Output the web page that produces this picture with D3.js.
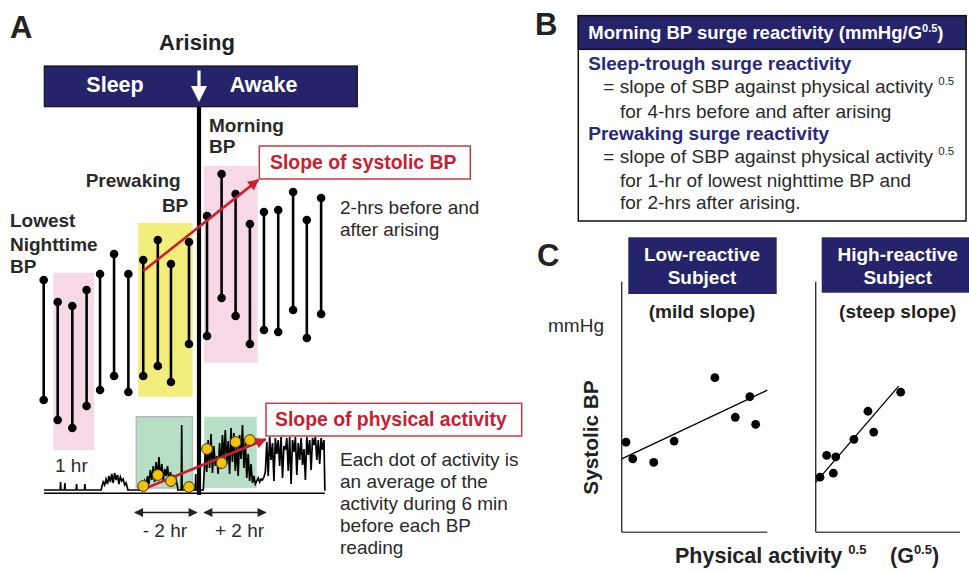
<!DOCTYPE html>
<html><head><meta charset="utf-8">
<script src="https://cdn.jsdelivr.net/npm/d3@7"></script>
<style>
body{margin:0;background:#fff}
svg{display:block}
text{font-family:"Liberation Sans",Arial,Helvetica,sans-serif}
</style>
</head><body>
<svg id="c" width="969" height="571"></svg>
<script>
// ---------------- DATA ----------------
// Panel A: ambulatory BP readings (hours relative to arising)
const bpTimes = [-5.43,-4.94,-4.43,-3.93,-3.46,-2.97,-2.47,-1.95,-1.44,-0.98,-0.35,0.28,0.79,1.28,1.78,2.27,2.77,3.29,3.77,4.27];
const bpSystolic = [125,114,112,120,128,138,128,135,145,133,144,157,178,168,153,159,160,169,155,166];
const bpDiastolic = [65,55,51,62,70,77,69,77,82,74,93,97,116,107,93,100,99,110,96,108];

// activity averages (dots) for readings 8..15
const actDotIndex = [7,8,9,10,11,12,13,14];
const actDotValues = [4,15,9,3,41,27,48,50];

// activity trace (step 0.05 h)
const actStep = 0.05;
const actSpikes = [[-4.84,8],[-4.69,7],[-4.28,6],[-3.99,6],[-0.605,65],[-0.115,16]];
const actBurst1Start = -3.40;
const actBurst1 = [3,8,5,11,6,14,8,16,7,17,10,15,6,13,9,11,5,7,2];
const actBurst2Start = -2.05;
const actBurst2 = [2,5,3,9,4,14,6,20,10,24,8,28,13,33,11,26,9,21,14,24,7,18,10,15,6,10,3];
const actBurst3Start = 0.17;
const actBurst3 = [12,38,18,50,22,56,17,44,24,34,16,47,21,55,30,60,26,49,16,62,28,57,19,44,14,55,31,65,22,48,12,36,9,26,7,14,6,9,12,8,11,10,13,18,48,14,53,30,47,9,52,36,50,24,53,12,44,40,52,19,53,6,50,38,53,15,47,30,52,25,41,10,53,35,50,20,52,45,53,30,50,26,52,40,50,0];
const actRange = [-5.42, 4.40];

// highlighted windows [t0, t1, low, high]
const bpWindows = [
  {t0:-5.09, t1:-3.67, lo:40, hi:128.6, color:"#f6d8e6"},   // lowest nighttime
  {t0:-2.13, t1:-0.22, lo:66.6, hi:153.5, color:"#f3ee7c"}, // prewaking
  {t0:0.175, t1:2.05, lo:83.6, hi:182, color:"#f6d8e6"}     // morning
];
const actWindows = [
  {t0:-2.19, t1:-0.23, lo:2, hi:73.3, border:true},
  {t0:0.185, t1:2.02, lo:2, hi:73.3, border:false}
];
const sbpSlope = [[-1.95,129.5],[2.07,175]];
const actSlope = [[-1.95,0.7],[2.33,50.7]];
const hourArrows = [[-2.24,-0.08,"- 2 hr"],[0.185,2.33,"+ 2 hr"]];

// Panel C scatter data
const lowX = [0.3,0.76,2.2,3.6,6.4,7.8,8.8,9.2];
const lowY = [36,29.3,27.9,36.4,61.7,45.9,54.1,43.1];
const lowFit = [[0,29.3],[10,56.7]];
const highX = [0.3,0.76,1.22,1.39,2.65,3.62,4.02,5.89];
const highY = [22,30.7,23.6,30.1,37.1,48.3,40,55.9];
const highFit = [[0,19.9],[5.75,58.3]];

// ---------------- DRAW ----------------
const NAVY = "#25246a", RED = "#c8202f", TXT = "#2a2a2a", BLUEBOLD = "#2a2a78";
const svg = d3.select("#c");
const defs = svg.append("defs");
function marker(id, color, w, h) {
  defs.append("marker").attr("id", id).attr("viewBox","0 0 10 10").attr("refX",9).attr("refY",5)
    .attr("markerWidth",w).attr("markerHeight",h).attr("orient","auto-start-reverse")
    .attr("markerUnits","userSpaceOnUse")
    .append("path").attr("d","M0,0 L10,5 L0,10 z").attr("fill",color);
}
marker("redHead", RED, 13, 11);
marker("blkHead", "#222", 11, 9);

const x = d3.scaleLinear().domain([-6,5]).range([199-6*28.6, 199+5*28.6]);
const y = d3.scaleLinear().domain([50,180]).range([430,170]);
const ay = d3.scaleLinear().domain([0,70]).range([490,420]);

const gA = svg.append("g");
// windows
gA.selectAll("rect.bw").data(bpWindows).join("rect")
  .attr("x", d=>x(d.t0)).attr("width", d=>x(d.t1)-x(d.t0))
  .attr("y", d=>y(d.hi)).attr("height", d=>y(d.lo)-y(d.hi)).attr("fill", d=>d.color);
gA.selectAll("rect.aw").data(actWindows).join("rect")
  .attr("x", d=>x(d.t0)).attr("width", d=>x(d.t1)-x(d.t0))
  .attr("y", d=>ay(d.hi)).attr("height", d=>ay(d.lo)-ay(d.hi))
  .attr("fill","#b6dfc6").attr("stroke", d=>d.border?"#b8b8b8":"none").attr("stroke-width",1.5);

// BP readings
const bp = bpTimes.map((t,i)=>({t, s:bpSystolic[i], d:bpDiastolic[i]}));
gA.selectAll("line.bp").data(bp).join("line")
  .attr("x1",d=>x(d.t)).attr("x2",d=>x(d.t)).attr("y1",d=>y(d.s)).attr("y2",d=>y(d.d))
  .attr("stroke","#000").attr("stroke-width",2.6);
gA.selectAll("circle.s").data(bp).join("circle").attr("cx",d=>x(d.t)).attr("cy",d=>y(d.s)).attr("r",4.3).attr("fill","#000");
gA.append("g").selectAll("circle").data(bp).join("circle").attr("cx",d=>x(d.t)).attr("cy",d=>y(d.d)).attr("r",4.3).attr("fill","#000");

// activity trace
let pts = [[actRange[0],0],[actRange[1],0]];
actSpikes.forEach(([t,h])=>{pts.push([t-0.015,0],[t,h],[t+0.015,0]);});
[[actBurst1Start,actBurst1],[actBurst2Start,actBurst2],[actBurst3Start,actBurst3]].forEach(([s,arr])=>{
  pts.push([s-0.02,0]);
  arr.forEach((v,i)=>pts.push([s+i*actStep,v]));
  pts.push([s+(arr.length-1)*actStep+0.01,0]);
});
pts.sort((a,b)=>a[0]-b[0]);
gA.append("path").datum(pts).attr("fill","none").attr("stroke","#000").attr("stroke-width",1.7)
  .attr("d", d3.line().x(d=>x(d[0])).y(d=>ay(d[1])));
gA.append("line").attr("x1",x(actRange[0])).attr("x2",x(actRange[1])).attr("y1",ay(0)+3.2).attr("y2",ay(0)+3.2)
  .attr("stroke","#000").attr("stroke-width",1.4);

// arising line
gA.append("line").attr("x1",x(0)).attr("x2",x(0)).attr("y1",106).attr("y2",495).attr("stroke","#000").attr("stroke-width",4.2);

// sleep/awake bar
gA.append("rect").attr("x",44.3).attr("y",66).attr("width",313).attr("height",40.7).attr("fill",NAVY).attr("stroke","#111").attr("stroke-width",1.2);
gA.append("text").attr("x",115).attr("y",92).attr("text-anchor","middle").attr("fill","#fff").attr("font-weight","bold").attr("font-size",21.5).text("Sleep");
gA.append("text").attr("x",263.5).attr("y",92).attr("text-anchor","middle").attr("fill","#fff").attr("font-weight","bold").attr("font-size",21.5).text("Awake");
gA.append("rect").attr("x",x(0)-1.6).attr("y",70.5).attr("width",3.2).attr("height",17).attr("fill","#fff");
gA.append("path").attr("d",`M${x(0)-8},86 L${x(0)+8},86 L${x(0)},102 z`).attr("fill","#fff");

// slope arrows
gA.append("line").attr("x1",x(sbpSlope[0][0])).attr("y1",y(sbpSlope[0][1])).attr("x2",x(sbpSlope[1][0])).attr("y2",y(sbpSlope[1][1]))
  .attr("stroke",RED).attr("stroke-width",2.6).attr("marker-end","url(#redHead)");
gA.append("line").attr("x1",x(actSlope[0][0])).attr("y1",ay(actSlope[0][1])).attr("x2",x(actSlope[1][0])).attr("y2",ay(actSlope[1][1]))
  .attr("stroke",RED).attr("stroke-width",2.6).attr("marker-end","url(#redHead)");

// activity dots
gA.selectAll("circle.ad").data(actDotIndex).join("circle")
  .attr("cx",(d)=>x(bpTimes[d])).attr("cy",(d,i)=>ay(actDotValues[i])).attr("r",5.4)
  .attr("fill","#f7c300").attr("stroke","#333").attr("stroke-width",1);

// hour arrows
hourArrows.forEach(([a,b,lab])=>{
  gA.append("line").attr("x1",x(a)).attr("x2",x(b)).attr("y1",512.5).attr("y2",512.5).attr("stroke","#222").attr("stroke-width",1.5)
    .attr("marker-start","url(#blkHead)").attr("marker-end","url(#blkHead)");
});
gA.append("text").attr("x",142.7).attr("y",537).attr("font-size",19).attr("fill",TXT).text("- 2 hr");
gA.append("text").attr("x",215).attr("y",537).attr("font-size",19).attr("fill",TXT).text("+ 2 hr");

// labels
function txt(g, x0, y0, s, size, opts={}) {
  const t = g.append("text").attr("x",x0).attr("y",y0).attr("font-size",size).attr("fill",opts.fill||TXT).text(s);
  if (opts.bold) t.attr("font-weight","bold");
  if (opts.anchor) t.attr("text-anchor",opts.anchor);
  return t;
}
txt(gA,10,38,"A",31,{bold:true,fill:"#222"});
txt(gA,197,49.5,"Arising",22,{bold:true,anchor:"middle",fill:"#222"});
txt(gA,209,131.7,"Morning",19,{bold:true});
txt(gA,209,153.3,"BP",19,{bold:true});
txt(gA,85.7,187,"Prewaking",19,{bold:true});
txt(gA,188.3,211.7,"BP",19,{bold:true,anchor:"end"});
txt(gA,10,227,"Lowest",19,{bold:true});
txt(gA,10,250.7,"Nighttime",19,{bold:true});
txt(gA,10,273.3,"BP",19,{bold:true});
txt(gA,55,471.7,"1 hr",19);
txt(gA,340,213.5,"2-hrs before and",19);
txt(gA,340,235.5,"after arising",19);
["Each dot of activity is","an average of the","activity during 6 min","before each BP","reading"].forEach((s,i)=>txt(gA,340,466+i*22,s,19));

// red boxes
gA.append("rect").attr("x",259.3).attr("y",146).attr("width",211).attr("height",33).attr("fill","#fff").attr("stroke","#c83a45").attr("stroke-width",1.5);
txt(gA,270,168.5,"Slope of systolic BP",19.4,{bold:true,fill:RED});
gA.append("rect").attr("x",266).attr("y",403.3).attr("width",255.7).attr("height",32.7).attr("fill","#fff").attr("stroke","#c83a45").attr("stroke-width",1.5);
txt(gA,275,425.5,"Slope of physical activity",19.4,{bold:true,fill:RED});

// ---------------- Panel B ----------------
const gB = svg.append("g");
txt(gB,535,35,"B",31,{bold:true,fill:"#222"});
gB.append("rect").attr("x",578.3).attr("y",15.7).attr("width",387.7).attr("height",205.3).attr("fill","#fff").attr("stroke","#111").attr("stroke-width",1.5);
gB.append("rect").attr("x",578.3).attr("y",15.7).attr("width",387.7).attr("height",33.6).attr("fill",NAVY).attr("stroke","#111").attr("stroke-width",1.5);
const hdr = txt(gB,588.3,39,"Morning BP surge reactivity (mmHg/G",18.5,{bold:true,fill:"#fff"});
hdr.append("tspan").attr("font-size",11).attr("dy",-7).text("0.5");
hdr.append("tspan").attr("dy",7).text(")");
txt(gB,588.3,70,"Sleep-trough surge reactivity",19,{bold:true,fill:BLUEBOLD});
let l1 = txt(gB,603.3,93.3,"= slope of SBP against physical activity ",19);
l1.append("tspan").attr("font-size",11.5).attr("dy",-8).text("0.5");
txt(gB,620,118.3,"for 4-hrs before and after arising",19);
txt(gB,588.3,140,"Prewaking surge reactivity",19,{bold:true,fill:BLUEBOLD});
let l2 = txt(gB,603.3,163.3,"= slope of SBP against physical activity ",19);
l2.append("tspan").attr("font-size",11.5).attr("dy",-8).text("0.5");
txt(gB,620,186.7,"for 1-hr of lowest nighttime BP and",19);
txt(gB,620,209.3,"for 2-hrs after arising.",19);

// ---------------- Panel C ----------------
const gC = svg.append("g");
txt(gC,537,266,"C",31,{bold:true,fill:"#222"});
const yC = d3.scaleLinear().domain([0,100]).range([532.3,281.7]);
const panels = [
  {x:d3.scaleLinear().domain([0,10]).range([621.7,767.3]), xs:lowX, ys:lowY, fit:lowFit,
   box:[628.3,237.3,148.4,56.7], title:["Low-reactive","Subject"], cx:702, sub:"(mild slope)"},
  {x:d3.scaleLinear().domain([0,10]).range([815.7,960]), xs:highX, ys:highY, fit:highFit,
   box:[821.7,237.3,150,55.4], title:["High-reactive","Subject"], cx:897.7, sub:"(steep slope)"}
];
panels.forEach(p=>{
  gC.append("line").attr("x1",p.x(0)).attr("x2",p.x(0)).attr("y1",yC(100)).attr("y2",yC(0)).attr("stroke","#333").attr("stroke-width",1.4);
  gC.append("line").attr("x1",p.x(0)).attr("x2",p.x(10)).attr("y1",yC(0)).attr("y2",yC(0)).attr("stroke","#555").attr("stroke-width",1.6);
  gC.append("rect").attr("x",p.box[0]).attr("y",p.box[1]).attr("width",p.box[2]).attr("height",p.box[3]).attr("fill",NAVY);
  txt(gC,p.cx,260.7,p.title[0],19,{bold:true,fill:"#fff",anchor:"middle"});
  txt(gC,p.cx,284.3,p.title[1],19,{bold:true,fill:"#fff",anchor:"middle"});
  txt(gC,p.cx,317.5,p.sub,19,{bold:true,anchor:"middle",fill:"#222"});
  gC.append("line").attr("x1",p.x(p.fit[0][0])).attr("y1",yC(p.fit[0][1])).attr("x2",p.x(p.fit[1][0])).attr("y2",yC(p.fit[1][1]))
    .attr("stroke","#000").attr("stroke-width",1.3);
  gC.append("g").selectAll("circle").data(p.xs).join("circle")
    .attr("cx",d=>p.x(d)).attr("cy",(d,i)=>yC(p.ys[i])).attr("r",4.4).attr("fill","#000");
});
txt(gC,548,332,"mmHg",19);
gC.append("text").attr("transform","translate(598,437.5) rotate(-90)").attr("text-anchor","middle")
  .attr("font-size",20.8).attr("font-weight","bold").attr("fill","#222").text("Systolic BP");
const xl = txt(gC,675,563,"Physical activity ",21.5,{bold:true,fill:"#222"});
xl.append("tspan").attr("font-size",13).attr("dy",-9).text("0.5");
xl.append("tspan").attr("x",890).attr("dy",9).text("(G");
xl.append("tspan").attr("font-size",13).attr("dy",-9).text("0.5");
xl.append("tspan").attr("dy",9).text(")");
</script>
</body></html>
